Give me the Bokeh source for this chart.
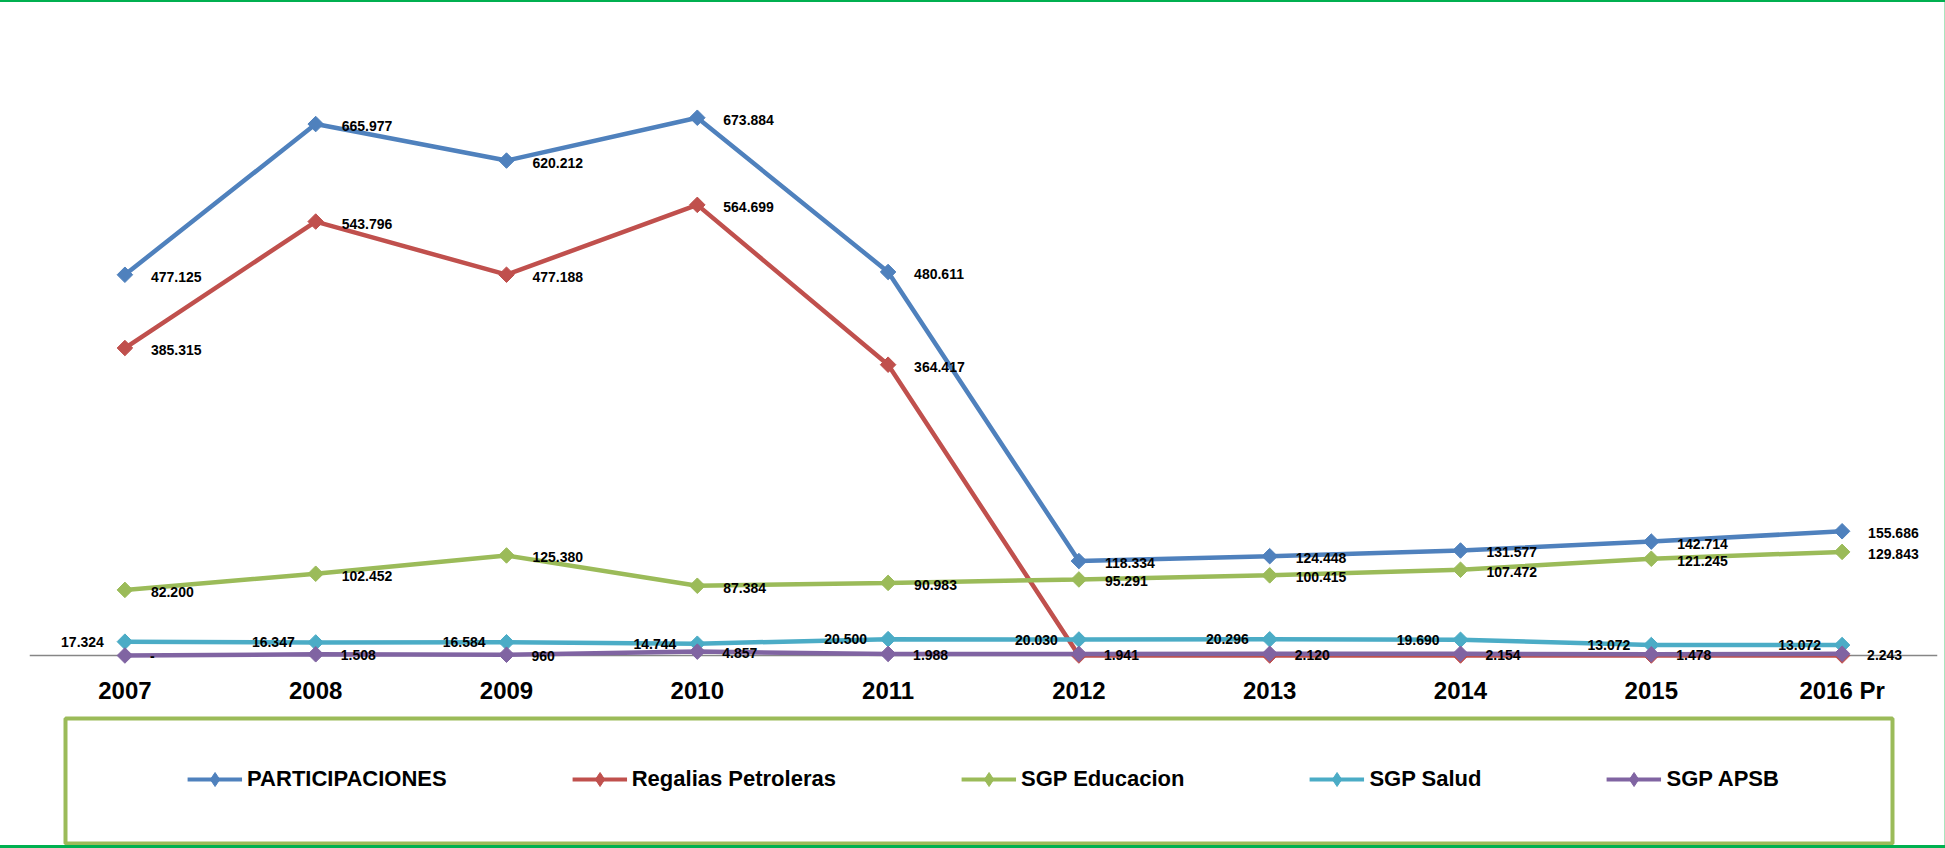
import numpy as np
from bokeh.plotting import figure
from bokeh.models import (ColumnDataSource, Span, Range1d, FactorRange, Legend, LegendItem, Div,
                          BoxAnnotation)
from bokeh.layouts import column, row
from bokeh.embed import file_html
from bokeh.resources import INLINE
from bokeh.core.properties import value

# ---------------- data ----------------
years = ["2007", "2008", "2009", "2010", "2011", "2012", "2013", "2014", "2015", "2016 Pr"]
participaciones = [477125, 665977, 620212, 673884, 480611, 118334, 124448, 131577, 142714, 155686]
regalias = [385315, 543796, 477188, 564699, 364417, 0, 0, 0, 0, 0]
educacion = [82200, 102452, 125380, 87384, 90983, 95291, 100415, 107472, 121245, 129843]
salud = [17324, 16347, 16584, 14744, 20500, 20030, 20296, 19690, 13072, 13072]
apsb = [0, 1508, 960, 4857, 1988, 1941, 2120, 2154, 1478, 2243]
series_names = ["PARTICIPACIONES", "Regalias Petroleras", "SGP Educacion", "SGP Salud", "SGP APSB"]
series_values = [participaciones, regalias, educacion, salud, apsb]
colors = ["#4F81BD", "#C0504D", "#9BBB59", "#4BACC6", "#8064A2"]

FONT = "Liberation Sans"


def fmt(v):
    if v == 0:
        return "-"
    return f"{v:,}".replace(",", ".")


# label placement per series: (x_offset, y_offset, align, hide zeros)
label_style = [
    (26, 2, "left", False),
    (26, 2, "left", True),
    (26, 2, "left", False),
    (-21, 0, "right", False),
    (25, 1, "left", False),
]

# ---------------- main plot ----------------
p = figure(width=1944, height=710,
           x_range=FactorRange(factors=years, range_padding=0),
           y_range=Range1d(-16300, 818300),
           output_backend="svg", toolbar_location=None,
           y_axis_location=None,
           min_border_left=29, min_border_right=7, min_border_top=0, min_border_bottom=44,
           outline_line_color=None, background_fill_color="white", border_fill_color="white")
p.grid.visible = False
p.xaxis.axis_line_color = None
p.xaxis.major_tick_line_color = None
p.xaxis.major_tick_out = 0
p.xaxis.major_tick_in = 0
p.xaxis.major_label_standoff = 8
p.xaxis.major_label_text_font = FONT
p.xaxis.major_label_text_font_style = "bold"
p.xaxis.major_label_text_font_size = "24px"
p.xaxis.major_label_text_color = "black"

p.add_layout(Span(location=0, dimension="width", line_color="#868686", line_width=1.5, level="underlay"))

for vals, c in zip(series_values, colors):
    p.line(years, vals, line_color=c, line_width=4.5)
    p.scatter(years, vals, marker="square", angle=np.pi / 4, size=11, fill_color=c, line_color=c)

for vals, (xo, yo, al, hide0) in zip(series_values, label_style):
    labels = [("" if (hide0 and v == 0) else fmt(v)) for v in vals]
    src = ColumnDataSource(dict(x=years, y=vals, t=labels))
    p.text(x="x", y="y", text="t", source=src, x_offset=xo, y_offset=yo,
           text_align=al, text_baseline="middle",
           text_font=value(FONT), text_font_style="bold", text_font_size="14px",
           text_color="black")

# ---------------- legend panel (pixel-like coordinates) ----------------
q = figure(width=1944, height=133, x_range=Range1d(29, 1937), y_range=Range1d(845, 712),
           output_backend="svg", toolbar_location=None,
           x_axis_location=None, y_axis_location=None,
           min_border_left=29, min_border_right=7, min_border_top=0, min_border_bottom=0,
           outline_line_color=None,
           background_fill_color="white", border_fill_color="white")
q.grid.visible = False

q.add_layout(BoxAnnotation(left=65, right=1892, top=718, bottom=843,
                           fill_color=None, fill_alpha=0,
                           line_color="#9BBB59", line_alpha=1.0, line_width=4))

items = []
for name, c in zip(series_names, colors):
    # legend swatches only: points lie outside the visible range
    r1 = q.line([0, 1], [0, 0], line_color=c, line_width=4)
    r2 = q.scatter([0.5], [0], marker="diamond", size=14, fill_color=c, line_color=c)
    items.append(LegendItem(label=name, renderers=[r1, r2]))

leg = Legend(items=items, orientation="horizontal", location="center",
             spacing=125, glyph_width=55, glyph_height=35, label_standoff=5,
             label_text_font=FONT, label_text_font_style="bold", label_text_font_size="22px",
             label_text_color="black",
             border_line_color=None, background_fill_alpha=0, padding=0, margin=0)
q.add_layout(leg)

# thin window frame lines
top_line = Div(text="", width=1945, height=2, margin=0, styles={"background-color": "#00B050"})
right_line = Div(text="", width=1, height=843, margin=0, styles={"background-color": "#A9E5BE"})
bottom_line = Div(text="", width=1945, height=3, margin=0, styles={"background-color": "#00B050"})

layout = column(top_line, row(column(p, q, spacing=0), right_line, spacing=0), bottom_line, spacing=0)

open("out.html", "w").write(file_html(layout, INLINE))
